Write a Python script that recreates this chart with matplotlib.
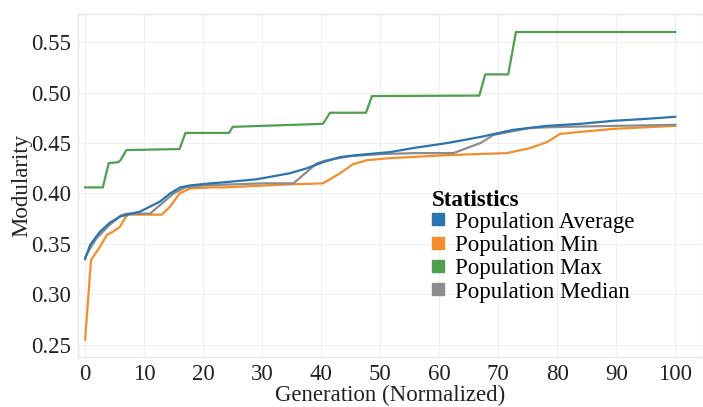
import matplotlib
matplotlib.use("Agg")
import matplotlib.pyplot as plt
from matplotlib.lines import Line2D

plt.rcParams['font.family'] = ['Liberation Serif', 'DejaVu Serif']

# Population Max (step-like)
max_x = [0, 3, 4, 5.6, 6, 7, 16, 17, 24.4, 25, 40.3, 41.5, 47.6, 48.6, 66.8, 67.8, 71.7, 73, 100]
max_y = [0.406, 0.406, 0.430, 0.431, 0.433, 0.443, 0.444, 0.460, 0.460, 0.466, 0.469, 0.480, 0.480, 0.4965, 0.497, 0.518, 0.518, 0.560, 0.560]

# Population Average
avg_x = [0, 0.85, 2.5, 4.2, 5.9, 7.1, 9.3, 11, 12.7, 14.4, 16.1, 17.8, 21.2, 23.4, 29, 34.7, 37.6,
         40.3, 43.2, 46, 51.7, 55.6, 61.4, 67, 72.5, 78.3, 83.9, 89.5, 95.3, 100]
avg_y = [0.335, 0.349, 0.362, 0.371, 0.377, 0.379, 0.382, 0.387, 0.392, 0.400, 0.406, 0.408, 0.410,
         0.411, 0.414, 0.420, 0.425, 0.431, 0.436, 0.438, 0.441, 0.445, 0.450, 0.456, 0.463, 0.467,
         0.469, 0.472, 0.474, 0.476]

# Population Median
med_x = [0, 1, 2, 4, 6, 7, 11, 13.2, 15, 17, 20, 25, 30, 35.3, 39.3, 41, 45, 50, 56, 62.4, 67, 69.2,
         75.4, 81, 90, 100]
med_y = [0.337, 0.347, 0.356, 0.368, 0.378, 0.380, 0.380, 0.391, 0.400, 0.406, 0.408, 0.409, 0.410,
         0.410, 0.430, 0.433, 0.437, 0.439, 0.440, 0.440, 0.450, 0.458, 0.465, 0.466, 0.467, 0.468]

# Population Min
min_x = [0, 1, 2.5, 3.7, 4.7, 5.9, 6.8, 7.3, 13, 14.4, 16, 17.8, 21.2, 23.4, 34.7, 40.3, 43.2, 45.4,
         47.8, 51.7, 61.4, 71.5, 75.4, 78.3, 80.5, 83.9, 89.5, 100]
min_y = [0.255, 0.334, 0.347, 0.359, 0.362, 0.367, 0.376, 0.379, 0.379, 0.387, 0.400, 0.405, 0.406,
         0.406, 0.409, 0.410, 0.420, 0.429, 0.433, 0.435, 0.438, 0.440, 0.445, 0.451, 0.459, 0.461,
         0.464, 0.467]

labels = ["Population Average", "Population Min", "Population Max", "Population Median"]
colors = ["#2b74b0", "#f28e2b", "#4e9f4e", "#8c8c8c"]
xticks = [0, 10, 20, 30, 40, 50, 60, 70, 80, 90, 100]
yticks = [0.25, 0.30, 0.35, 0.40, 0.45, 0.50, 0.55]

FS = 16.5
fig = plt.figure(figsize=(7.03, 4.07), dpi=100)
ax = fig.add_axes([0.111, 0.123, 0.889, 0.843])

ax.plot(max_x, max_y, color=colors[2], lw=1.6)
ax.plot(min_x, min_y, color=colors[1], lw=1.6)
ax.plot(med_x, med_y, color=colors[3], lw=1.6)
ax.plot(avg_x, avg_y, color=colors[0], lw=1.6)

ax.set_xlim(-1.2, 104.7)
ax.set_ylim(0.238, 0.578)
ax.set_xticks(xticks)
ax.set_xticklabels([str(t) for t in xticks])
ax.set_yticks(yticks)
ax.set_yticklabels([f"{t:.2f}" for t in yticks])
ax.tick_params(length=0, labelsize=FS, colors="#222222", pad=5)
ax.grid(True, color="#f0f0f0", lw=0.8)
ax.set_axisbelow(True)
for s in ax.spines.values():
    s.set_color("#e6e6e6")
    s.set_linewidth(1.0)

ax.set_xlabel("Generation (Normalized)", fontsize=FS, color="#222222", labelpad=0)
ax.set_ylabel("Modularity", fontsize=FS, color="#222222", labelpad=-1)

handles = [Line2D([], [], marker='s', linestyle='none', color=c, markersize=8) for c in colors]
leg = ax.legend(handles, labels, title="Statistics", loc="upper left",
                bbox_to_anchor=(0.614, 0.532), bbox_transform=fig.transFigure,
                frameon=False, fontsize=FS, title_fontsize=FS,
                handlelength=0.55, handletextpad=0.45, labelspacing=0.1,
                borderpad=0, borderaxespad=0)
leg.get_title().set_fontweight("bold")
leg._legend_box.align = "left"
leg._legend_box.sep = 0

fig.savefig("out.png", dpi=100)
